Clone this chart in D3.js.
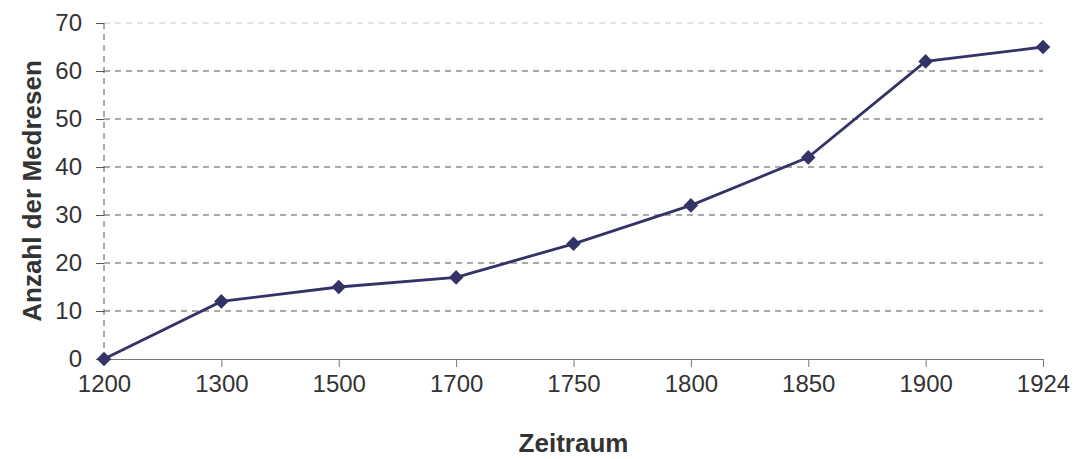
<!DOCTYPE html>
<html>
<head>
<meta charset="utf-8">
<script src="https://cdn.jsdelivr.net/npm/d3@7"></script>
<style>
body { margin: 0; background: #fff; }
svg text { font-family: "Liberation Sans", Arial, sans-serif; }
</style>
</head>
<body>
<svg id="mysvg" width="1090" height="459"></svg>
<script>
var years = ["1200", "1300", "1500", "1700", "1750", "1800", "1850", "1900", "1924"];
var medresen = [0, 12, 15, 17, 24, 32, 42, 62, 65];
var yTicks = [0, 10, 20, 30, 40, 50, 60, 70];

var mydata = years.map(function(d, i) { return {x: d, y: medresen[i]}; });

var svg = d3.select("svg"),
    margin = {top: 23, right: 47, bottom: 100, left: 104},
    width = +svg.attr("width") - margin.left - margin.right,
    height = +svg.attr("height") - margin.top - margin.bottom;

var x = d3.scalePoint().domain(years).range([0, width]),
    y = d3.scaleLinear().domain([0, 70]).range([height, 0]);

var g = svg.append("g")
    .attr("transform", "translate(" + margin.left + "," + margin.top + ")");

// horizontal grid lines
g.selectAll(".grid")
  .data(yTicks.filter(function(d) { return d > 0; }))
  .enter().append("line")
    .attr("class", "grid")
    .attr("x1", 0).attr("x2", width)
    .attr("y1", function(d) { return y(d); })
    .attr("y2", function(d) { return y(d); })
    .attr("stroke", function(d) { return d === 70 ? "#c8c8c8" : "#555"; })
    .attr("stroke-width", 1)
    .attr("stroke-dasharray", "6,5");

// y axis (dashed line)
var yAxis = g.append("g")
    .call(d3.axisLeft(y).tickValues(yTicks).tickSize(8).tickPadding(14).tickFormat(d3.format("d")));
yAxis.select(".domain").remove();
yAxis.selectAll(".tick line").attr("stroke", "#555");
yAxis.selectAll("text").attr("font-size", "24px").attr("fill", "#333");
g.append("line")
    .attr("x1", 0).attr("x2", 0)
    .attr("y1", y(70)).attr("y2", y(0))
    .attr("stroke", "#555")
    .attr("stroke-dasharray", "6,5");

// x axis
var xAxis = g.append("g")
    .attr("transform", "translate(0," + height + ")")
    .call(d3.axisBottom(x).tickSize(8).tickPadding(8));
xAxis.select(".domain").attr("stroke", "#777").attr("d", "M0,0.5H" + width);
xAxis.selectAll(".tick line").attr("stroke", "#777")
    .attr("display", function(d, i) { return i === 0 ? "none" : null; });
xAxis.selectAll("text").attr("font-size", "24px").attr("fill", "#333");

// line
var line = d3.line()
    .x(function(d) { return x(d.x); })
    .y(function(d) { return y(d.y); });

g.append("path")
    .datum(mydata)
    .attr("fill", "none")
    .attr("stroke", "#333368")
    .attr("stroke-width", 2.8)
    .attr("d", line);

g.selectAll(".dot")
  .data(mydata)
  .enter().append("path")
    .attr("class", "dot")
    .attr("d", d3.symbol().type(d3.symbolDiamond2).size(135))
    .attr("transform", function(d) { return "translate(" + x(d.x) + "," + y(d.y) + ")"; })
    .attr("fill", "#333368");

// axis titles
svg.append("text")
    .attr("text-anchor", "middle")
    .attr("transform", "translate(" + (margin.left + width / 2) + ",452)")
    .text("Zeitraum")
    .style("fill", "#333")
    .style("font-size", "26px")
    .style("font-weight", "bold");

svg.append("text")
    .attr("text-anchor", "middle")
    .attr("transform", "translate(41," + (margin.top + height / 2) + ")rotate(-90)")
    .text("Anzahl der Medresen")
    .style("fill", "#333")
    .style("font-size", "26px")
    .style("font-weight", "bold");
</script>
</body>
</html>
